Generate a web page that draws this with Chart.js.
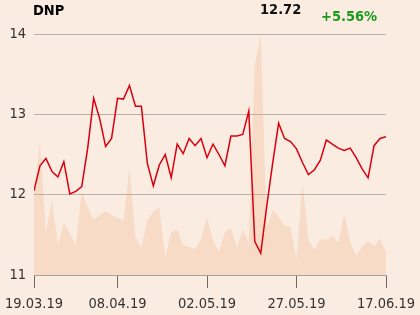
<!DOCTYPE html>
<html>
<head>
<meta charset="utf-8">
<script src="https://cdn.jsdelivr.net/npm/chart.js@4.4.0/dist/chart.umd.min.js"></script>
<style>
  html, body { margin: 0; padding: 0; background: #fbece1; }
  #wrap { position: relative; width: 420px; height: 315px; background: #fbece1; overflow: hidden; }
  #chart { position: absolute; left: 0; top: 0; }
  .hdr { position: absolute; font-family: "DejaVu Sans Condensed", "DejaVu Sans", sans-serif; font-weight: bold; font-size: 14.5px; line-height: normal; white-space: nowrap; }
  #ticker { left: 33px; top: 2px; color: #000; }
  #last { left: 260px; top: 1px; color: #111; }
  #change { left: 321px; top: 8px; color: #1a9a1a; }
</style>
</head>
<body>
<div id="wrap">
  <canvas id="chart" width="420" height="315"></canvas>
  <div class="hdr" id="ticker">DNP</div>
  <div class="hdr" id="last">12.72</div>
  <div class="hdr" id="change">+5.56%</div>
</div>
<script>
// closing prices, one per trading day 19.03.19 .. 17.06.19
const prices = [
  12.05, 12.36, 12.45, 12.29, 12.22, 12.41, 12.01, 12.04, 12.10, 12.58,
  13.20, 12.95, 12.60, 12.70, 13.20, 13.19, 13.36, 13.10, 13.10, 12.39,
  12.11, 12.37, 12.50, 12.21, 12.63, 12.51, 12.70, 12.61, 12.70, 12.46,
  12.63, 12.50, 12.36, 12.73, 12.73, 12.75, 13.04, 11.42, 11.27, 11.85,
  12.39, 12.89, 12.70, 12.66, 12.57, 12.40, 12.25, 12.31, 12.43, 12.68,
  12.63, 12.58, 12.55, 12.58, 12.46, 12.32, 12.21, 12.61, 12.70, 12.72
];
// volume (relative units)
const volumes = [
  82, 132, 43, 75, 30, 52, 42, 30, 83, 68,
  55, 60, 64, 60, 57, 55, 107, 38, 27, 55,
  63, 68, 18, 43, 45, 30, 28, 26, 36, 57,
  35, 23, 43, 47, 27, 45, 32, 210, 240, 47,
  65, 58, 49, 48, 15, 92, 35, 25, 36, 35,
  39, 32, 61, 33, 19, 28, 34, 29, 36, 22
];
const dateLabels = ["19.03.19", "08.04.19", "02.05.19", "27.05.19", "17.06.19"];
const dateIndex = [0, 14, 29, 44, 59];
const priceTicks = [11, 12, 13, 14];

const FONT = '"DejaVu Sans Condensed", "DejaVu Sans", sans-serif';

document.addEventListener('DOMContentLoaded', () => {
    const ctx = document.getElementById('chart').getContext('2d');

    new Chart(ctx, {
        type: 'line',
        data: {
            datasets: [{
                label: 'DNP',
                data: prices.map((v, i) => ({ x: i, y: v })),
                borderColor: '#d8000f',
                borderWidth: 1.5,
                pointRadius: 0,
                tension: 0,
                fill: false,
                yAxisID: 'y'
            }, {
                label: 'Volume',
                data: volumes.map((v, i) => ({ x: i, y: v })),
                borderWidth: 0,
                backgroundColor: 'rgba(235, 169, 125, 0.25)',
                pointRadius: 0,
                tension: 0,
                fill: 'origin',
                yAxisID: 'vol'
            }]
        },
        options: {
            responsive: false,
            devicePixelRatio: 1,
            animation: false,
            layout: { padding: { left: 0, right: 34, top: 34, bottom: 0 } },
            plugins: {
                legend: { display: false },
                tooltip: { enabled: false }
            },
            scales: {
                x: {
                    type: 'linear',
                    min: 0,
                    max: prices.length - 1,
                    afterBuildTicks: (scale) => {
                        scale.ticks = dateIndex.map(v => ({ value: v }));
                    },
                    afterFit: (scale) => {
                        // edge labels may overhang the plot, keep plot edges fixed
                        scale.height = 40;
                        scale.paddingLeft = 0;
                        scale.paddingRight = 0;
                    },
                    ticks: {
                        autoSkip: false,
                        maxRotation: 0,
                        padding: 8,
                        color: '#333',
                        font: { family: FONT, size: 14.5 },
                        callback: (value) => dateLabels[dateIndex.indexOf(value)]
                    },
                    grid: {
                        drawOnChartArea: false,
                        tickLength: 13,
                        tickColor: '#6e6a66',
                        tickWidth: 1
                    },
                    border: { display: true, color: '#a9a39e', width: 1 }
                },
                y: {
                    position: 'left',
                    min: 11,
                    max: 14,
                    afterBuildTicks: (scale) => {
                        scale.ticks = priceTicks.map(v => ({ value: v }));
                    },
                    afterFit: (scale) => { scale.width = 34; },
                    ticks: {
                        padding: 8,
                        color: '#333',
                        font: { family: FONT, size: 14.5 }
                    },
                    grid: {
                        drawTicks: false,
                        color: '#b7b1ab',
                        lineWidth: 1
                    },
                    border: { display: false }
                },
                vol: {
                    display: false,
                    min: 0,
                    max: 241
                }
            }
        }
    });
});
</script>
</body>
</html>
